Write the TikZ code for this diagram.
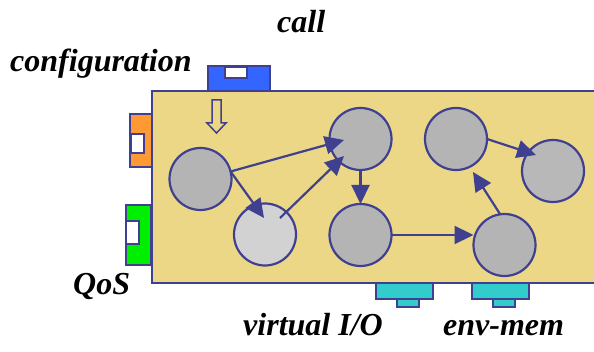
\documentclass[tikz,border=0pt]{standalone}
\usepackage{fontspec}
\setmainfont{Liberation Serif}
\usetikzlibrary{arrows.meta}
\definecolor{navy}{RGB}{64,64,144}
\definecolor{sand}{RGB}{235,215,133}
\definecolor{grayc}{RGB}{180,180,180}
\definecolor{lightc}{RGB}{210,210,210}
\definecolor{bluep}{RGB}{51,102,255}
\definecolor{orangep}{RGB}{255,153,51}
\definecolor{greenp}{RGB}{0,238,0}
\definecolor{cyanp}{RGB}{51,204,204}
\tikzset{
  box/.style={draw=navy, line width=2.2pt, rectangle, inner sep=0pt, outer sep=0pt, anchor=north west},
  proc/.style={draw=navy, line width=2.2pt, circle, inner sep=0pt, outer sep=0pt, minimum size=62pt, fill=grayc},
  flow/.style={draw=navy, line width=2.2pt, -{Triangle[length=19pt,width=18pt]}},
  lbl/.style={font=\fontsize{32}{36}\selectfont\bfseries\itshape, anchor=base west, inner sep=0pt}
}
\begin{document}
\begin{tikzpicture}[x=1pt,y=-1pt]
\clip (0,0) rectangle (594,352);
% labels
\node[lbl] (lcall) at (277,33) {call};
\node[lbl] (lconf) at (10,72) {configuration};
\node[lbl] (lqos) at (73,295) {QoS};
\node[lbl] (lvio) at (243,335) {virtual I/O};
\node[lbl] (lenv) at (443,335) {env-mem};
% main component
\node[box, fill=sand, minimum width=452pt, minimum height=192pt] (main) at (152,91) {};
% ports
\node[box, fill=bluep, minimum width=62pt, minimum height=25pt] (pcall) at (208,66) {};
\node[box, fill=white, line width=1.5pt, minimum width=22pt, minimum height=11pt] (pcallw) at (225,67) {};
\node[box, fill=orangep, minimum width=22pt, minimum height=53pt] (pconf) at (130,114) {};
\node[box, fill=white, line width=1.5pt, minimum width=13pt, minimum height=19pt] (pconfw) at (131,134) {};
\node[box, fill=greenp, minimum width=25pt, minimum height=60pt] (pqos) at (126,205) {};
\node[box, fill=white, line width=1.5pt, minimum width=13pt, minimum height=23pt] (pqosw) at (126,221) {};
\node[box, fill=cyanp, minimum width=57pt, minimum height=16pt] (pvio) at (376,283) {};
\node[box, fill=cyanp, minimum width=22pt, minimum height=8pt] (pvios) at (397,299) {};
\node[box, fill=cyanp, minimum width=57pt, minimum height=16pt] (penv) at (472,283) {};
\node[box, fill=cyanp, minimum width=22pt, minimum height=8pt] (penvs) at (493,299) {};
% hollow arrow
\draw[navy, line width=1.5pt, fill=sand] (212,100) -- (221,100) -- (221,123) -- (226,123) -- (216.5,133) -- (207,123) -- (212,123) -- cycle;
% processes
\node[proc] (c1) at (200.5,179) {};
\node[proc, fill=lightc] (c2) at (265,234.5) {};
\node[proc] (t) at (360.5,139) {};
\node[proc] (m) at (360.5,235) {};
\node[proc] (tr) at (456,139) {};
\node[proc, fill=grayc!95!white] (r) at (553,171) {};
\node[proc] (br) at (504.5,245) {};
% flows
\draw[flow] (c1.14) -- ([shift={(-16.5,1)}]t.center);
\draw[flow] (c1.14) -- ([shift={(-1,-16.5)}]c2.center);
\draw[flow] ([shift={(15,-16.5)}]c2.center) -- ([shift={(-16.5,17)}]t.center);
\draw[flow] (t.south) -- (m.north);
\draw[flow] (m.east) -- (m.east -| br.west);
\draw[flow] (br.98) -- ([shift={(17,33)}]tr.center);
\draw[flow] (tr.east) -- ([shift={(-17,-16)}]r.center);
\end{tikzpicture}
\end{document}
